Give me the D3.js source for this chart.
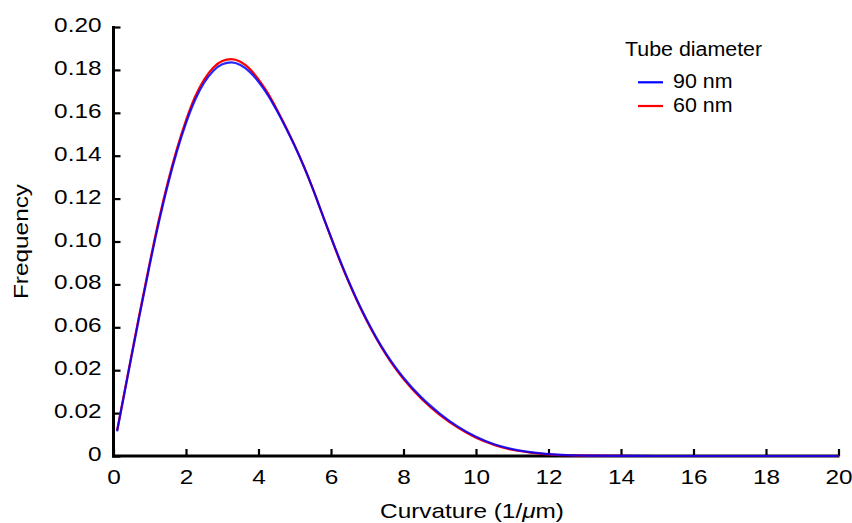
<!DOCTYPE html>
<html>
<head>
<meta charset="utf-8">
<script src="https://cdn.jsdelivr.net/npm/d3@7"></script>
<style>
  html, body { margin: 0; padding: 0; background: #fff; }
  svg text { font-family: "Liberation Sans", Arial, Helvetica, sans-serif; fill: #000; }
</style>
</head>
<body>
<svg id="chart" width="852" height="523"></svg>
<script>
// Curvature sample points (1/µm)
const curvature = [0.1, 0.4, 0.7, 1.0, 1.25, 1.5, 1.75, 2.0, 2.25, 2.5, 2.75, 3.0, 3.25, 3.5, 3.75,
  4.0, 4.25, 4.5, 4.75, 5.0, 5.25, 5.5, 5.75, 6.0, 6.25, 6.5, 6.75, 7.0, 7.25, 7.5, 7.75,
  8.0, 8.5, 9.0, 9.5, 10.0, 10.5, 11.0, 11.5, 12.0, 12.5, 13.0, 14.0, 15.0, 16.0, 17.0, 18.0, 19.0, 20.0];

// Frequency for the 90 nm tubes
const freq90 = [0.0115, 0.0379, 0.0640, 0.0892, 0.1088, 0.1265, 0.1420, 0.1552, 0.1660, 0.1740, 0.1795, 0.1826, 0.1835, 0.1823, 0.1792,
  0.1745, 0.1685, 0.1612, 0.1532, 0.1445, 0.1350, 0.1245, 0.1132, 0.1020, 0.0912, 0.0810, 0.0716, 0.0630, 0.0552, 0.0482, 0.0420,
  0.0365, 0.0272, 0.0198, 0.0137, 0.0090, 0.0055, 0.0032, 0.0018, 0.0009, 0.0004, 0.0002, 0.00005, 0, 0, 0, 0, 0, 0];

// Frequency for the 60 nm tubes
const freq60 = [0.0120, 0.0385, 0.0648, 0.0901, 0.1100, 0.1277, 0.1432, 0.1565, 0.1675, 0.1755, 0.1810, 0.1841, 0.1850, 0.1838, 0.1806,
  0.1756, 0.1694, 0.1618, 0.1535, 0.1447, 0.1351, 0.1245, 0.1131, 0.1018, 0.0908, 0.0806, 0.0712, 0.0626, 0.0548, 0.0477, 0.0414,
  0.0359, 0.0266, 0.0192, 0.0132, 0.0085, 0.0052, 0.0029, 0.0016, 0.0008, 0.0004, 0.0002, 0.00004, 0, 0, 0, 0, 0, 0];

const xTickValues = [0, 2, 4, 6, 8, 10, 12, 14, 16, 18, 20];
const yTickValues = [0, 0.02, 0.04, 0.06, 0.08, 0.10, 0.12, 0.14, 0.16, 0.18, 0.20];
const yTickLabels = ["0", "0.02", "0.02", "0.06", "0.08", "0.10", "0.12", "0.14", "0.16", "0.18", "0.20"];

const seriesNames = ["90 nm", "60 nm"];
const seriesColors = ["#0000ff", "#ff0000"];
const legendTitle = "Tube diameter";

// Labels use a slightly widened Helvetica-style face
const stretch = 1.16;

const svg = d3.select("#chart");
const x = d3.scaleLinear().domain([0, 20]).range([113.5, 838.5]);
const y = d3.scaleLinear().domain([0, 0.20]).range([456, 27]);

// Axes: ticks point into the plot area
const xAxis = svg.append("g")
  .attr("transform", `translate(0,${y(0)})`)
  .call(d3.axisBottom(x).tickValues(xTickValues).tickSize(-7).tickSizeOuter(0));
const yAxis = svg.append("g")
  .attr("transform", `translate(${x(0)},0)`)
  .call(d3.axisLeft(y).tickValues(yTickValues).tickFormat((d, i) => yTickLabels[i]).tickSize(-7).tickSizeOuter(0));

[xAxis, yAxis].forEach(g => {
  g.select(".domain").attr("stroke", "#000").attr("stroke-width", 3);
  g.selectAll(".tick line").attr("stroke", "#000").attr("stroke-width", 2.2);
  g.selectAll(".tick text")
    .attr("font-size", 21)
    .attr("font-family", "Liberation Sans, Arial, sans-serif")
    .attr("x", null).attr("y", null).attr("dy", null);
});
xAxis.selectAll(".tick text")
  .attr("text-anchor", "middle")
  .attr("transform", `translate(0,28) scale(${stretch},1)`);
yAxis.selectAll(".tick text")
  .attr("text-anchor", "end")
  .attr("transform", `translate(-12,4.5) scale(${stretch},1)`);

xAxis.select(".domain").attr("d", `M${x(0) - 1.5},0H${x(20) + 1}`);
yAxis.select(".domain").attr("d", `M0,${y(0) + 1.5}V${y(0.2) - 1}`);

// Axis titles
const xTitle = svg.append("text")
  .attr("transform", `translate(${(x(0) + x(20)) / 2 - 4},518) scale(${stretch},1)`)
  .attr("text-anchor", "middle").attr("font-size", 21);
xTitle.append("tspan").text("Curvature (1/");
xTitle.append("tspan").attr("font-style", "italic").text("μ");
xTitle.append("tspan").text("m)");

svg.append("text")
  .attr("transform", `translate(28,${(y(0) + y(0.2)) / 2}) rotate(-90) scale(${stretch},1)`)
  .attr("text-anchor", "middle").attr("font-size", 21)
  .text("Frequency");

// Curves
const line = d3.line()
  .x(d => x(d[0]))
  .y(d => y(d[1]))
  .curve(d3.curveMonotoneX);

const data60 = curvature.map((c, i) => [c, freq60[i]]);
const data90 = curvature.map((c, i) => [c, freq90[i]]);

svg.append("path").datum(data60)
  .attr("fill", "none").attr("stroke", seriesColors[1]).attr("stroke-width", 2.2)
  .attr("d", line);
svg.append("path").datum(data90)
  .attr("fill", "none").attr("stroke", seriesColors[0]).attr("stroke-width", 2.2)
  .attr("stroke-opacity", 0.85)
  .attr("d", line);

// Legend
const legend = svg.append("g");
legend.append("text")
  .attr("transform", "translate(625,56) scale(1.07,1)")
  .attr("font-size", 20).text(legendTitle);
seriesNames.forEach((name, i) => {
  const cy = 82.3 + i * 23.7;
  legend.append("line")
    .attr("x1", 638).attr("x2", 663).attr("y1", cy).attr("y2", cy)
    .attr("stroke", seriesColors[i]).attr("stroke-width", 2.2);
  legend.append("text")
    .attr("transform", `translate(673,${cy + 6}) scale(1.07,1)`)
    .attr("font-size", 20).text(name);
});
</script>
</body>
</html>
